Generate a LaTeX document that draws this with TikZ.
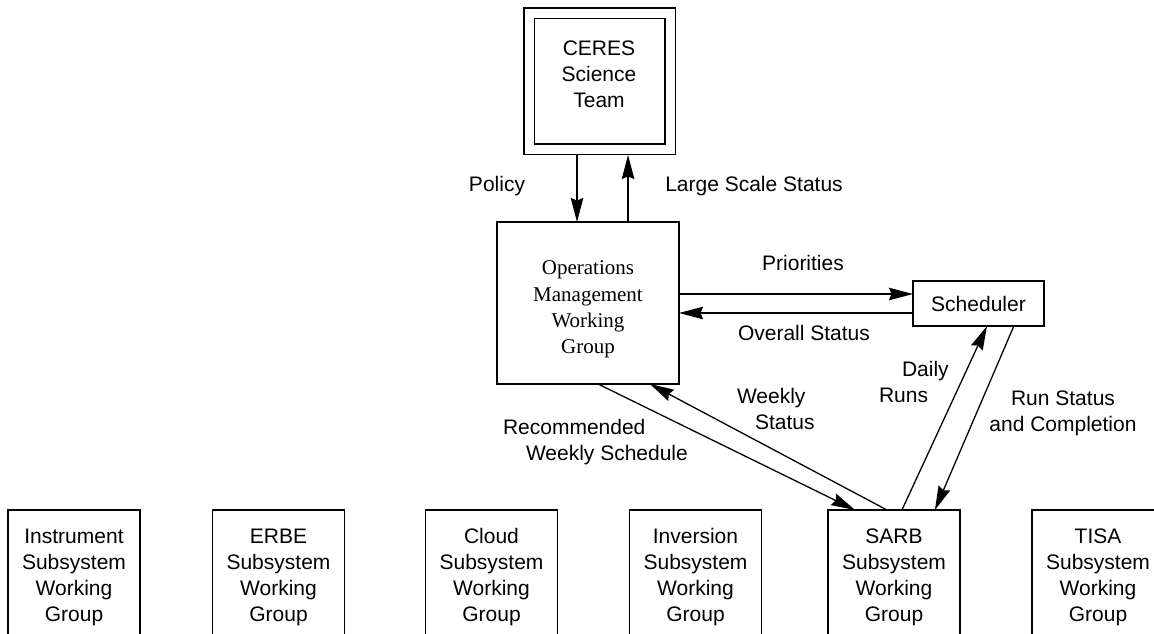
\documentclass[tikz,border=0pt]{standalone}
\usepackage{fontspec}
\setmainfont{Liberation Sans}
\newfontfamily\timesfont{Liberation Serif}
\usetikzlibrary{arrows.meta,calc}
\begin{document}
\begin{tikzpicture}[x=1pt,y=-1pt,
  every node/.style={font=\fontsize{21}{26}\selectfont, inner sep=0pt, outer sep=0pt},
  box/.style={draw, line width=1.5pt, align=center},
  subbox/.style={box, anchor=north, minimum width=132pt, minimum height=134pt},
  lbl/.style={align=center},
  arr/.style={line width=1.3pt, -{Stealth[length=24pt,width=12.5pt,inset=2.5pt]}}
]
\useasboundingbox (0,0) rectangle (1154,634);
\clip (0,0) rectangle (1154,634);

% boxes
\node[box, double, double distance=9pt, outer sep=6pt, minimum width=141pt, minimum height=135.5pt] (ceres) at (599.5,81.25) {};
\node[lbl] (cerest) at (599,74.5) {CERES\\Science\\Team};
\node[box, minimum width=182pt, minimum height=162pt] (omwg) at (588,303) {};
\node[lbl, font=\timesfont\fontsize{21}{26.3}\selectfont] (omwgt) at (588,309.5) {Operations\\Management\\Working\\Group};
\node[box, minimum width=131pt, minimum height=45pt] (sched) at (978.5,303.5) {Scheduler};

\node[subbox] (inst) at (74,510) {Instrument\\Subsystem\\Working\\Group};
\node[subbox] (erbe) at (278.5,510) {ERBE\\Subsystem\\Working\\Group};
\node[subbox] (cloud) at (491.5,510) {Cloud\\Subsystem\\Working\\Group};
\node[subbox] (inv) at (695.5,510) {Inversion\\Subsystem\\Working\\Group};
\node[subbox] (sarb) at (894,510) {SARB\\Subsystem\\Working\\Group};
\node[subbox] (tisa) at (1098,510) {TISA\\Subsystem\\Working\\Group};

% connector end points
\coordinate (pol) at ($(ceres.south west)!0.353!(ceres.south east)$);
\coordinate (lss) at ($(omwg.north west)!0.72!(omwg.north east)$);
\coordinate (pri) at ([yshift=9pt]omwg.east);
\coordinate (ovs) at ([yshift=-10pt]omwg.east);
\coordinate (rws1) at ($(omwg.south west)!0.555!(omwg.south east)$);
\coordinate (rws2) at ($(sarb.north west)!0.205!(sarb.north east)$);
\coordinate (ws1) at ($(sarb.north west)!0.447!(sarb.north east)$);
\coordinate (ws2) at ($(omwg.south west)!0.84!(omwg.south east)$);
\coordinate (dr1) at ($(sarb.north west)!0.56!(sarb.north east)$);
\coordinate (dr2) at ($(sched.south west)!0.565!(sched.south east)$);
\coordinate (rs1) at ($(sched.south west)!0.77!(sched.south east)$);
\coordinate (rs2) at ($(sarb.north west)!0.81!(sarb.north east)$);

% connectors
\draw[arr] (pol) -- (pol |- omwg.north);
\draw[arr] (lss) -- (lss |- ceres.south);
\draw[arr] (pri) -- (pri -| sched.west);
\draw[arr] (ovs -| sched.west) -- (ovs);
\draw[arr] (rws1) -- (rws2);
\draw[arr] (ws1) -- (ws2);
\draw[arr] (dr1) -- (dr2);
\draw[arr] (rs1) -- (rs2);

% labels
\node (lpol) at (497,186) {Policy};
\node (llss) at (754,186) {Large Scale Status};
\node (lpri) at (803,263) {Priorities};
\node (lovs) at (804,333) {Overall Status};
\node[align=left, anchor=west] (lws) at (737,408.5) {Weekly\\\hspace*{18pt}Status};
\node[align=left, anchor=west] (lrws) at (503,442) {Recommended\\\hspace*{23pt}Weekly Schedule};
\node[align=left, anchor=west] (ldr) at (879,381.5) {\hspace*{23pt}Daily\\Runs};
\node[lbl] (lrs) at (1063,413) {Run Status\\and Completion};
\end{tikzpicture}
\end{document}
